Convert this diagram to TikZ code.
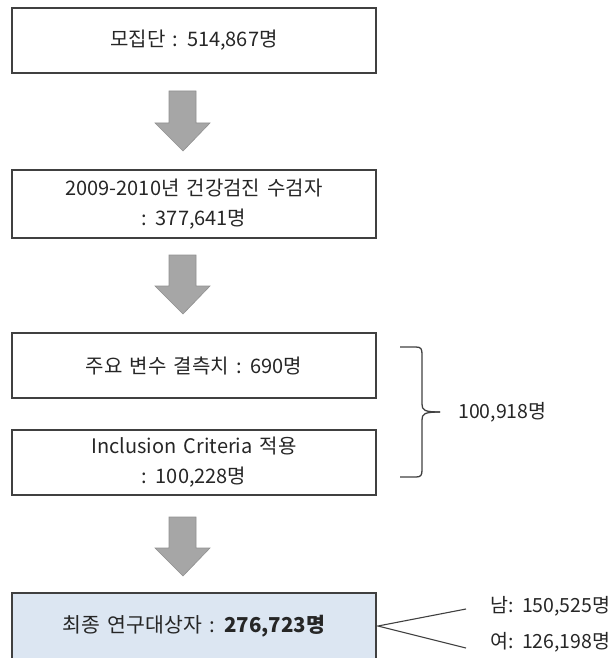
\documentclass[tikz,border=0pt]{standalone}
\usepackage{fontspec}
\setmainfont[WordSpace=1.6]{Noto Sans CJK KR}
\definecolor{boxline}{HTML}{404040}
\definecolor{arrowgray}{HTML}{A6A6A6}
\definecolor{arrowedge}{HTML}{909090}
\definecolor{finalfill}{HTML}{DCE6F2}
\definecolor{txt}{HTML}{262626}
\begin{document}
\begin{tikzpicture}[x=1pt,y=-1pt,
  stepbox/.style={draw=boxline,line width=1.4pt,minimum width=364pt,inner sep=0pt,align=center,text=txt,font=\fontsize{20}{30}\selectfont},
  downarr/.style={fill=arrowgray,draw=arrowedge,line width=0.6pt},
  brace/.style={draw=boxline,line width=1.3pt},
  side/.style={font=\fontsize{19.5}{24}\selectfont,anchor=west,inner sep=0pt,text=txt}]
\useasboundingbox (0,0) rectangle (611,658);
\node[stepbox,minimum height=65pt] (b1) at (194,40.5) {모집단 : 514,867명};
\node[stepbox,minimum height=68pt] (b2) at (194,204) {2009-2010년 건강검진 수검자\\: 377,641명};
\node[stepbox,minimum height=65pt] (b3) at (194,365.5) {주요 변수 결측치 : 690명};
\node[stepbox,minimum height=65pt] (b4) at (194,462.5) {Inclusion Criteria 적용\\: 100,228명};
\node[stepbox,fill=finalfill,minimum height=80pt] (b5) at (194,633) {};
\node[font=\fontsize{20.5}{24}\selectfont,inner sep=0pt,text=txt] (b5t) at (194,626) {최종 연구대상자 : \textbf{276,723명}};
% arrows
\coordinate (t1) at (183,151);
\coordinate (t2) at (183,314);
\coordinate (t3) at (183,576);
\foreach \t/\h in {t1/60, t2/59, t3/59}{
  \draw[downarr] (\t) -- ++(-28,-28) -- ++(14,0) -- ++(0,{-(\h-28)}) -- ++(27,0) -- ++(0,{\h-28}) -- ++(14,0) -- cycle;
}
% brace
\coordinate (bt) at (400,347);
\coordinate (bb) at (400,477);
\coordinate (bm) at (440,412);
\node[side] (n1) at (458,412) {100,918명};
\draw[brace] (bt) -- (416,347) .. controls (421,347) and (422,349) .. (422,354) -- (422,404) .. controls (422,410) and (424,412) .. (bm);
\draw[brace] (bb) -- (416,477) .. controls (421,477) and (422,475) .. (422,470) -- (422,420) .. controls (422,414) and (424,412) .. (bm);
% split lines
\coordinate (v) at (378,626);
\coordinate (e1) at (466,609);
\coordinate (e2) at (466,648);
\node[side] (m) at (490,606) {남: 150,525명};
\node[side] (f) at (490,642) {여: 126,198명};
\draw[boxline,line width=1.1pt] (e1) -- (v) -- (e2);
\end{tikzpicture}
\end{document}
